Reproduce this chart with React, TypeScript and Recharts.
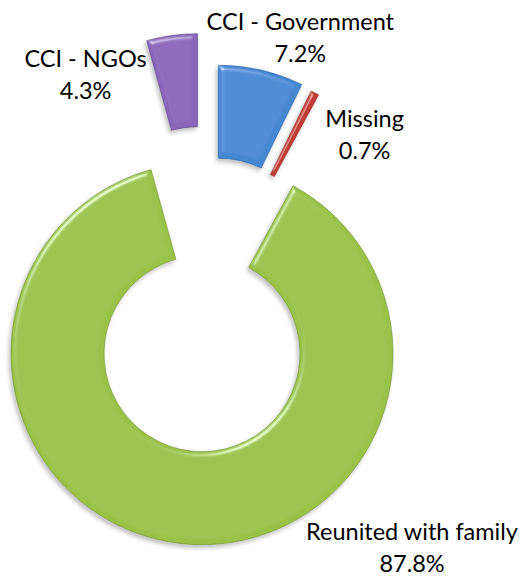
import { PieChart, Pie, Cell } from 'recharts';

// slices, clockwise from 12 o'clock
const categories = ['CCI - Government', 'Missing', 'Reunited with family', 'CCI - NGOs'];
const shares = [7.2, 0.7, 87.8, 4.3];
const shareLabels = ['7.2%', '0.7%', '87.8%', '4.3%'];

const colors = ['#4688D3', '#C23A33', '#9AC24A', '#8A66B8'];
const edgeColors = ['#2A5FA3', '#8E221E', '#6A8F2C', '#5B4087'];

// how far each slice is pulled out, and where its label sits (relative to the slice's centre)
const explode = [46, 43, 53, 77];
const labelOffset = [
  [82, -226],
  [137, -136],
  [210, 186],
  [-112, -158],
];

const CX = 208;
const CY = 301;
const INNER = 98;
const OUTER = 191;
const LINE_GAP = 32;

const data = categories.map((name, i) => ({ name, value: shares[i] }));

export default function App() {
  const total = shares.reduce((a, b) => a + b, 0);
  let acc = 0;
  const mids = shares.map((v) => {
    const mid = 90 - ((acc + v / 2) / total) * 360;
    acc += v;
    return (mid * Math.PI) / 180;
  });

  return (
    <div style={{ position: 'absolute', left: 0, top: 0, width: 527, height: 578, background: '#fff' }}>
      <PieChart width={527} height={578} margin={{ top: 0, right: 0, bottom: 0, left: 0 }}>
        <defs>
          <filter id="bevel" x="-20%" y="-20%" width="140%" height="140%">
            <feGaussianBlur in="SourceAlpha" stdDeviation="2.5" result="blur" />
            <feSpecularLighting in="blur" surfaceScale="4" specularConstant="1" specularExponent="28" lightingColor="#ffffff" result="spec">
              <feDistantLight azimuth="235" elevation="35" />
            </feSpecularLighting>
            <feComposite in="spec" in2="SourceAlpha" operator="in" result="specIn" />
            <feComposite in="SourceGraphic" in2="specIn" operator="arithmetic" k1="0" k2="1" k3="0.55" k4="0" result="lit" />
            <feOffset in="SourceAlpha" dx="-2" dy="3" result="off" />
            <feGaussianBlur in="off" stdDeviation="2" result="shadowBlur" />
            <feFlood floodColor="#000000" floodOpacity="0.25" />
            <feComposite in2="shadowBlur" operator="in" result="shadow" />
            <feMerge>
              <feMergeNode in="shadow" />
              <feMergeNode in="lit" />
            </feMerge>
          </filter>
        </defs>
        {categories.map((cat, idx) => {
          const dx = Math.cos(mids[idx]) * explode[idx];
          const dy = -Math.sin(mids[idx]) * explode[idx];
          return (
            <Pie
              key={cat}
              data={data}
              dataKey="value"
              nameKey="name"
              cx={CX + dx}
              cy={CY + dy}
              innerRadius={INNER}
              outerRadius={OUTER}
              startAngle={90}
              endAngle={-270}
              paddingAngle={0}
              isAnimationActive={false}
              labelLine={false}
              label={(props: any) => {
                if (props.index !== idx) return null;
                const x = props.cx + labelOffset[idx][0];
                const y = props.cy + labelOffset[idx][1];
                return (
                  <text
                    x={x}
                    y={y}
                    textAnchor="middle"
                    fill="#000"
                    fontFamily="Lato, 'Open Sans', sans-serif"
                    fontSize={23.5}
                  >
                    <tspan x={x} y={y}>{categories[idx]}</tspan>
                    <tspan x={x} y={y + LINE_GAP}>{shareLabels[idx]}</tspan>
                  </text>
                );
              }}
            >
              {data.map((d, i) => (
                <Cell
                  key={d.name}
                  fill={i === idx ? colors[i] : 'none'}
                  stroke={i === idx ? edgeColors[i] : 'none'}
                  strokeWidth={1}
                  strokeOpacity={0.6}
                  filter={i === idx ? 'url(#bevel)' : undefined}
                />
              ))}
            </Pie>
          );
        })}
      </PieChart>
    </div>
  );
}
